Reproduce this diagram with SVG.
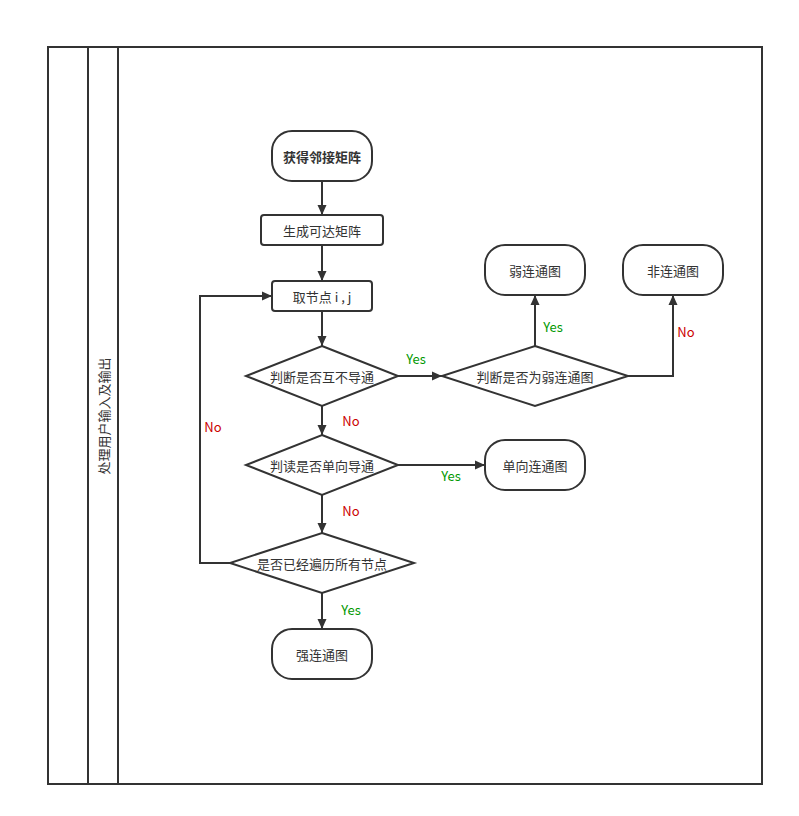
<svg xmlns="http://www.w3.org/2000/svg" width="799" height="816" viewBox="0 0 799 816">
<defs>
<marker id="arr" viewBox="0 0 10 10" refX="10" refY="5" markerWidth="10" markerHeight="10" markerUnits="userSpaceOnUse" orient="auto">
<path d="M0,0.5 L10,5 L0,9.5 Z" fill="#333"/>
</marker>
</defs>
<style>
.frame{fill:none;stroke:#333;stroke-width:2}
.shape{fill:#fff;stroke:#333;stroke-width:2}
.edge{fill:none;stroke:#333;stroke-width:2;marker-end:url(#arr)}
text{font-family:"Noto Sans CJK SC","Liberation Sans",sans-serif;font-size:13px;fill:#333}
.t{text-anchor:middle;dominant-baseline:central}
.yes{fill:#009900}
.no{fill:#CC0000}
</style>
<rect width="799" height="816" fill="#fff"/>
<g id="pool">
<rect class="frame" x="48" y="47" width="714" height="737"/>
<line class="frame" x1="88" y1="47" x2="88" y2="784"/>
<line class="frame" x1="118" y1="47" x2="118" y2="784"/>
<text class="t" transform="translate(103,416) rotate(-90)">处理用户输入及输出</text>
</g>
<g id="connectors">
<line class="edge" x1="322" y1="181" x2="322" y2="215"/>
<line class="edge" x1="322" y1="245" x2="322" y2="281"/>
<line class="edge" x1="322" y1="311" x2="322" y2="346"/>
<line class="edge" x1="398" y1="376" x2="442" y2="376"/>
<line class="edge" x1="535" y1="346" x2="535" y2="295"/>
<polyline class="edge" points="628,376 673,376 673,295"/>
<line class="edge" x1="322" y1="406" x2="322" y2="435"/>
<line class="edge" x1="398" y1="465" x2="485" y2="465"/>
<line class="edge" x1="322" y1="495" x2="322" y2="533"/>
<polyline class="edge" points="230,563 200,563 200,296 272,296"/>
<line class="edge" x1="322" y1="593" x2="322" y2="629"/>
<text class="t yes" x="416" y="358">Yes</text>
<text class="t yes" x="553" y="326">Yes</text>
<text class="t no" x="686" y="331">No</text>
<text class="t no" x="351" y="420">No</text>
<text class="t yes" x="451" y="475">Yes</text>
<text class="t no" x="351" y="510">No</text>
<text class="t no" x="213" y="426">No</text>
<text class="t yes" x="351" y="609">Yes</text>
</g>
<g id="n1">
<rect class="shape" x="272" y="131" width="100" height="50" rx="20"/>
<text class="t" x="322" y="156" font-weight="bold">获得邻接矩阵</text>
</g>
<g id="n2">
<rect class="shape" x="261" y="215" width="122" height="30" rx="3"/>
<text class="t" x="322" y="230">生成可达矩阵</text>
</g>
<g id="n3">
<rect class="shape" x="272" y="281" width="100" height="30" rx="3"/>
<text class="t" x="322" y="296">取节点 i , j</text>
</g>
<g id="d1">
<polygon class="shape" points="322,346 398,376 322,406 246,376"/>
<text class="t" x="322" y="376">判断是否互不导通</text>
</g>
<g id="d2">
<polygon class="shape" points="535,346 628,376 535,406 442,376"/>
<text class="t" x="535" y="376">判断是否为弱连通图</text>
</g>
<g id="weak">
<rect class="shape" x="485" y="245" width="100" height="50" rx="20"/>
<text class="t" x="535" y="270">弱连通图</text>
</g>
<g id="none">
<rect class="shape" x="623" y="245" width="100" height="50" rx="20"/>
<text class="t" x="673" y="270">非连通图</text>
</g>
<g id="d3">
<polygon class="shape" points="322,435 398,465 322,495 246,465"/>
<text class="t" x="322" y="465">判读是否单向导通</text>
</g>
<g id="uni">
<rect class="shape" x="485" y="440" width="100" height="50" rx="20"/>
<text class="t" x="535" y="465">单向连通图</text>
</g>
<g id="d4">
<polygon class="shape" points="322,533 414,563 322,593 230,563"/>
<text class="t" x="322" y="563">是否已经遍历所有节点</text>
</g>
<g id="strong">
<rect class="shape" x="272" y="629" width="100" height="50" rx="20"/>
<text class="t" x="322" y="654">强连通图</text>
</g>
</svg>
